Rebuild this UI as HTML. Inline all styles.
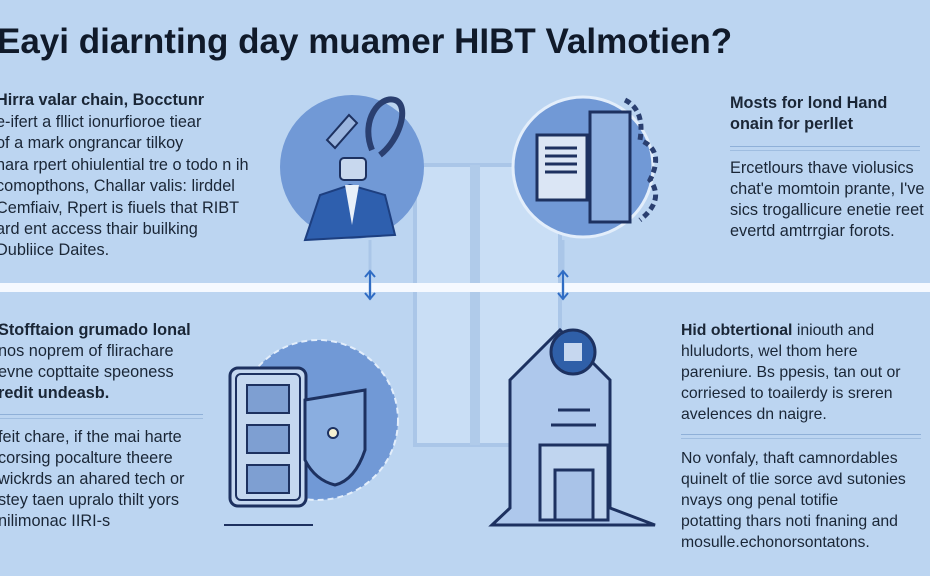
<!DOCTYPE html>
<html><head><meta charset="utf-8"><style>
body{margin:0;width:930px;height:576px;overflow:hidden;background:#bcd5f1;font-family:"Liberation Sans",sans-serif;color:#1a2636;position:relative}
.t{position:absolute;white-space:nowrap;font-size:16.3px;line-height:19px}
.b{font-weight:bold}
h1{position:absolute;left:-3px;top:22px;margin:0;font-size:35px;line-height:40px;font-weight:bold;color:#101a2a;white-space:nowrap}
.wave{position:absolute;height:3px;border-top:1px solid #8fb0d8;border-bottom:1px solid #9fbde0}
</style></head><body>
<h1>Eayi diarnting day muamer HIBT Valmotien?</h1>
<svg width="930" height="576" style="position:absolute;left:0;top:0">
<rect x="415" y="165" width="145" height="280" fill="#c9def5" stroke="#aac6e8" stroke-width="4"/>
<rect x="470" y="165" width="10" height="280" fill="#b0cbea"/>
<rect x="0" y="283" width="930" height="9" fill="#f5f9ff"/>
<line x1="370" y1="240" x2="370" y2="300" stroke="#aac6e8" stroke-width="3"/>
<line x1="563" y1="240" x2="563" y2="300" stroke="#aac6e8" stroke-width="3"/>
<path d="M370 272v26M365 293l5 6 5-6M365 277l5-6 5 6" stroke="#2f6cc4" stroke-width="2" fill="none"/>
<path d="M563 272v26M558 293l5 6 5-6M558 277l5-6 5 6" stroke="#2f6cc4" stroke-width="2" fill="none"/>
<circle cx="352" cy="167" r="72" fill="#7199d6"/>
<path d="M305 240 L320 195 L350 185 L385 195 L395 235 Z" fill="#2e5fae" stroke="#1d3f80" stroke-width="2"/>
<path d="M345 185 l7 40 l7 -40z" fill="#e8f0fa"/>
<rect x="340" y="158" width="26" height="22" rx="4" fill="#c8d8ee" stroke="#1d3160" stroke-width="2"/>
<path d="M372 150 C360 120 380 95 395 100 C410 105 400 140 380 155" fill="none" stroke="#2a3f70" stroke-width="6"/>
<path d="M327 140 l22 -25 l8 8 l-22 25z" fill="#9ab5df" stroke="#1d3160" stroke-width="2"/>
<circle cx="583" cy="167" r="70" fill="#7199d6" stroke="#e3eefb" stroke-width="3"/>
<rect x="537" y="135" width="50" height="65" fill="#dbe6f5" stroke="#1d3160" stroke-width="3"/>
<path d="M545 148h32M545 156h32M545 164h32M545 172h32" stroke="#1d3160" stroke-width="3"/>
<rect x="590" y="112" width="40" height="110" fill="#8fb0e0" stroke="#1d3160" stroke-width="3"/>
<path d="M625 100 q20 10 15 40 q25 10 10 40 q15 20 -10 40" fill="none" stroke="#2a3f70" stroke-width="5" stroke-dasharray="6 4"/>
<circle cx="318" cy="420" r="80" fill="#7199d6" stroke="#e3eefb" stroke-width="2" stroke-dasharray="6 4"/>
<rect x="230" y="368" width="76" height="138" rx="8" fill="#c5d8f0" stroke="#1d3160" stroke-width="3"/>
<rect x="236" y="374" width="64" height="126" rx="5" fill="none" stroke="#1d3160" stroke-width="2"/>
<rect x="247" y="385" width="42" height="28" fill="#7e9fd2" stroke="#1d3160" stroke-width="2"/>
<rect x="247" y="425" width="42" height="28" fill="#7e9fd2" stroke="#1d3160" stroke-width="2"/>
<rect x="247" y="465" width="42" height="28" fill="#7e9fd2" stroke="#1d3160" stroke-width="2"/>
<path d="M305 400 q30 -5 60 -10 v60 q-10 30 -30 35 q-20 -5 -30 -25z" fill="#8aaee0" stroke="#1d3160" stroke-width="3"/>
<circle cx="333" cy="433" r="5" fill="#f5f0d0" stroke="#1d3160" stroke-width="2"/>
<line x1="224" y1="525" x2="313" y2="525" stroke="#1d3160" stroke-width="2"/>
<path d="M492 525 L510 508 L510 380 L560 330 L610 380 L610 508 L655 525Z" fill="#aec8ec" stroke="#1d3160" stroke-width="3"/>
<circle cx="573" cy="352" r="22" fill="#2f5fa8" stroke="#1d3160" stroke-width="3"/>
<rect x="564" y="343" width="18" height="18" fill="#c6d7ef"/>
<path d="M558 410h32M551 425h45" stroke="#1d3160" stroke-width="3"/>
<rect x="540" y="445" width="68" height="75" fill="#c0d5ef" stroke="#1d3160" stroke-width="3"/>
<rect x="555" y="470" width="38" height="50" fill="#a9c3e8" stroke="#1d3160" stroke-width="3"/>
</svg>
<div class="t b" style="left:-4px;top:91px">Hirra valar chain, Bocctunr</div>
<div class="t" style="left:-4px;top:113px">e-ifert a fllict ionurfioroe tiear</div>
<div class="t" style="left:-4px;top:134px">of a mark ongrancar tilkoy</div>
<div class="t" style="left:-4px;top:156px">hara rpert ohiulential tre o todo n ih</div>
<div class="t" style="left:-4px;top:177px">comopthons, Challar valis: lirddel</div>
<div class="t" style="left:-4px;top:199px">Cemfiaiv, Rpert is fiuels that RIBT</div>
<div class="t" style="left:-4px;top:220px">ard ent access thair builking</div>
<div class="t" style="left:-4px;top:241px">Dubliice Daites.</div>
<div class="t b" style="left:730px;top:94px">Mosts for lond Hand</div>
<div class="t b" style="left:730px;top:115px">onain for perllet</div>
<div class="wave" style="left:730px;top:146px;width:190px"></div>
<div class="t" style="left:730px;top:159px">Ercetlours thave violusics</div>
<div class="t" style="left:730px;top:180px">chat'e momtoin prante, I've</div>
<div class="t" style="left:730px;top:201px">sics trogallicure enetie reet</div>
<div class="t" style="left:730px;top:222px">evertd amtrrgiar forots.</div>
<div class="t b" style="left:-2px;top:321px">Stofftaion grumado lonal</div>
<div class="t" style="left:-2px;top:342px">nos noprem of flirachare</div>
<div class="t" style="left:-2px;top:363px">evne copttaite speoness</div>
<div class="t b" style="left:-2px;top:384px">redit undeasb.</div>
<div class="wave" style="left:0;top:414px;width:203px"></div>
<div class="t" style="left:-2px;top:428px">feit chare, if the mai harte</div>
<div class="t" style="left:-2px;top:449px">corsing pocalture theere</div>
<div class="t" style="left:-2px;top:470px">wickrds an ahared tech or</div>
<div class="t" style="left:-2px;top:491px">stey taen upralo thilt yors</div>
<div class="t" style="left:-2px;top:512px">nilimonac IIRI-s</div>
<div class="t" style="left:681px;top:321px;font-size:15.8px"><b>Hid obtertional</b> iniouth and</div>
<div class="t" style="left:681px;top:342px;font-size:15.8px">hluludorts, wel thom here</div>
<div class="t" style="left:681px;top:363px;font-size:15.8px">pareniure. Bs ppesis, tan out or</div>
<div class="t" style="left:681px;top:384px;font-size:15.8px">corriesed to toailerdy is sreren</div>
<div class="t" style="left:681px;top:405px;font-size:15.8px">avelences dn naigre.</div>
<div class="wave" style="left:681px;top:434px;width:240px"></div>
<div class="t" style="left:681px;top:449px;font-size:15.8px">No vonfaly, thaft camnordables</div>
<div class="t" style="left:681px;top:470px;font-size:15.8px">quinelt of tlie sorce avd sutonies</div>
<div class="t" style="left:681px;top:491px;font-size:15.8px">nvays ong penal totifie</div>
<div class="t" style="left:681px;top:512px;font-size:15.8px">potatting thars noti fnaning and</div>
<div class="t" style="left:681px;top:533px;font-size:15.8px">mosulle.echonorsontatons.</div>
</body></html>
